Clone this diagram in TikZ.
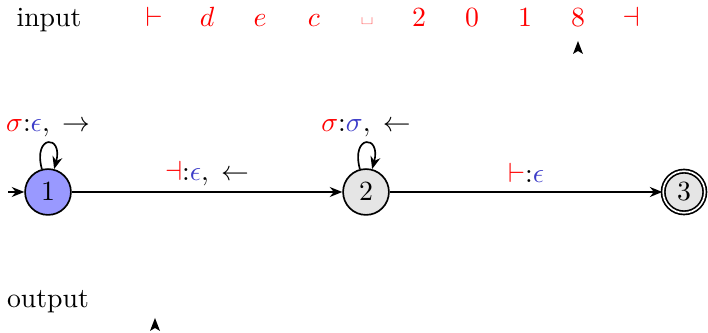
\documentclass[tikz,border=0pt]{standalone}
\usetikzlibrary{arrows.meta,automata}
\definecolor{outblue}{RGB}{60,60,200}
\begin{document}
\begin{tikzpicture}[x=0.36pt,y=-0.36pt,
  state/.style={circle,draw,semithick,minimum size=16.5pt,inner sep=0pt},
  tr/.style={-{Stealth[length=4.5pt,width=3.6pt]},semithick},
  sym/.style={text=red,anchor=base},
  lbl/.style={inner sep=1pt},
  selfloop/.style={tr,out=105,in=75,looseness=7.5,min distance=0pt},
  headmark/.style={fill=black}]
\useasboundingbox (0,0) rectangle (708,333);
% tape
\node[anchor=base] (in) at (49,27) {input};
\foreach \s/\x/\n in {{$\vdash$}/154/t0,{$d$}/207/t1,{$e$}/260/t2,{$c$}/314/t3,{\raisebox{1.6pt}{\scalebox{0.9}[0.7]{\textvisiblespace}}}/367/t4,{$2$}/419/t5,{$0$}/472/t6,{$1$}/525/t7,{$8$}/578/t8,{$\dashv$}/631/t9}
  \node[sym] (\n) at (\x,27) {\s};
\fill[headmark] (573,54) -- (578,41) -- (583,54) -- (578,51) -- cycle;
\node[anchor=base] (out) at (48,308) {output};
\fill[headmark] (150,331) -- (155,318) -- (160,331) -- (155,328) -- cycle;
% automaton
\node[state,fill=blue!40] (s1) at (48,192) {$1$};
\node[state,fill=gray!20] (s2) at (366,192) {$2$};
\node[state,double,fill=gray!20,minimum size=15pt] (s3) at (684,192) {$3$};
\coordinate (init) at (8,192);
\draw[tr] (init) -- (s1);
\draw[selfloop] (s1) to node[lbl,above,yshift=1pt] {$\textcolor{red}{\sigma}{:}\textcolor{outblue}{\epsilon}{,}\,\rightarrow$} (s1);
\draw[selfloop] (s2) to node[lbl,above,yshift=1pt] {$\textcolor{red}{\sigma}{:}\textcolor{outblue}{\sigma}{,}\,\leftarrow$} (s2);
\draw[tr] (s1) -- node[lbl,above,yshift=1pt] {$\textcolor{red}{\mathord{\dashv}}{:}\textcolor{outblue}{\epsilon}{,}\,\leftarrow$} (s2);
\draw[tr] (s2) -- node[lbl,above,yshift=2pt] {$\textcolor{red}{\mathord{\vdash}}{:}\textcolor{outblue}{\epsilon}$} (s3);
\end{tikzpicture}
\end{document}
